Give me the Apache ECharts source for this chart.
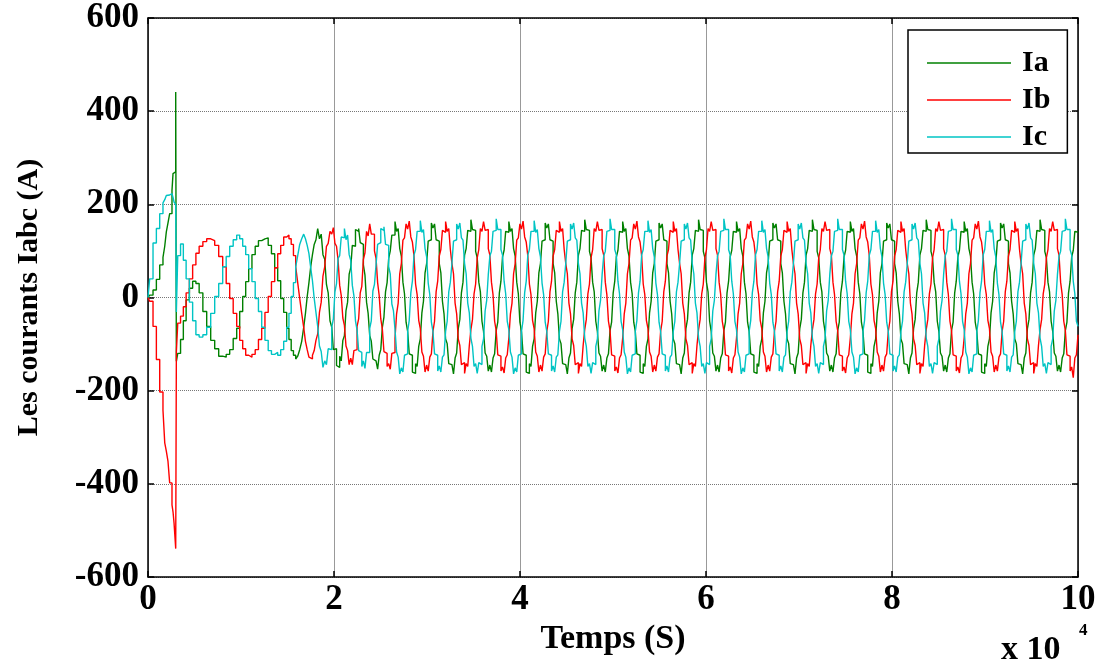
<!DOCTYPE html>
<html>
<head>
<meta charset="utf-8">
<script src="https://cdn.jsdelivr.net/npm/echarts@6/dist/echarts.min.js"></script>
<style>
html,body{margin:0;padding:0;background:#fff;}
#chart{width:1103px;height:664px;}
</style>
</head>
<body>
<div id="chart"></div>
<script>
// Sample times (shared by the three phase currents)
const timeSamples = [
 0,180,540,900,1260,1610,1800,1970,2150,2330,2580,2690,2800,2980,3050,3200,3500,3800,4100,4450,4800,5150,5500,5900,
 6312,6742,7172,7602,8032,8408,8785,9161,9538,9860,10183,10505,10828,11177,11527,11876,
 12226,12575,12925,13274,13624,13946,14269,14591,14914,15156,15398,15640,15882,16097,16312,16527,16742,16930,17118,17306,17495,17683,17871,18059,
 18247,18435,18624,18812,19000,19188,19376,19568,19760,19930,20100,20270,20440,20610,20780,20950,21120,21290,21460,21630,21800,21970,22140,22310,
 22480,22650,22820,22990,23160,23330,23500,23670,23840,24010,24180,24350,24520,24690,24860,25030,25200,25370,25540,25710,25880,26050,26220,26390,
 26560,26730,26900,27070,27240,27410,27580,27750,27920,28090,28260,28430,28600,28770,28940,29110,29280,29450,29620,29790,29960,30130,30300,30470,
 30640,30810,30980,31150,31320,31490,31660,31830,32000,32170,32340,32510,32680,32850,33020,33190,33360,33530,33700,33870,34040,34210,34380,34550,
 34720,34890,35060,35230,35400,35570,35740,35910,36080,36250,36420,36590,36760,36930,37100,37270,37440,37610,37780,37950,38120,38290,38460,38630,
 38800,38970,39140,39310,39480,39650,39820,39990,40160,40330,40500,40670,40840,41010,41180,41350,41520,41690,41860,42030,42200,42370,42540,42710,
 42880,43050,43220,43390,43560,43730,43900,44070,44240,44410,44580,44750,44920,45090,45260,45430,45600,45770,45940,46110,46280,46450,46620,46790,
 46960,47130,47300,47470,47640,47810,47980,48150,48320,48490,48660,48830,49000,49170,49340,49510,49680,49850,50020,50190,50360,50530,50700,50870,
 51040,51210,51380,51550,51720,51890,52060,52230,52400,52570,52740,52910,53080,53250,53420,53590,53760,53930,54100,54270,54440,54610,54780,54950,
 55120,55290,55460,55630,55800,55970,56140,56310,56480,56650,56820,56990,57160,57330,57500,57670,57840,58010,58180,58350,58520,58690,58860,59030,
 59200,59370,59540,59710,59880,60050,60220,60390,60560,60730,60900,61070,61240,61410,61580,61750,61920,62090,62260,62430,62600,62770,62940,63110,
 63280,63450,63620,63790,63960,64130,64300,64470,64640,64810,64980,65150,65320,65490,65660,65830,66000,66170,66340,66510,66680,66850,67020,67190,
 67360,67530,67700,67870,68040,68210,68380,68550,68720,68890,69060,69230,69400,69570,69740,69910,70080,70250,70420,70590,70760,70930,71100,71270,
 71440,71610,71780,71950,72120,72290,72460,72630,72800,72970,73140,73310,73480,73650,73820,73990,74160,74330,74500,74670,74840,75010,75180,75350,
 75520,75690,75860,76030,76200,76370,76540,76710,76880,77050,77220,77390,77560,77730,77900,78070,78240,78410,78580,78750,78920,79090,79260,79430,
 79600,79770,79940,80110,80280,80450,80620,80790,80960,81130,81300,81470,81640,81810,81980,82150,82320,82490,82660,82830,83000,83170,83340,83510,
 83680,83850,84020,84190,84360,84530,84700,84870,85040,85210,85380,85550,85720,85890,86060,86230,86400,86570,86740,86910,87080,87250,87420,87590,
 87760,87930,88100,88270,88440,88610,88780,88950,89120,89290,89460,89630,89800,89970,90140,90310,90480,90650,90820,90990,91160,91330,91500,91670,
 91840,92010,92180,92350,92520,92690,92860,93030,93200,93370,93540,93710,93880,94050,94220,94390,94560,94730,94900,95070,95240,95410,95580,95750,
 95920,96090,96260,96430,96600,96770,96940,97110,97280,97450,97620,97790,97960,98130,98300,98470,98640,98810,98980,99150,99320,99490,99660,99830,
 100000
];

// Phase a current Ia (A)
const iaValues = [
 0,5,16,39,70,86,110,141,160,180,230,266,270,441,-137,-120,-90,-50,-5,20,35,30,10,-30,
 -62,-92,-110,-126,-128,-122,-112,-88,-66,-30,2,34,62,92,110,122,
 126,128,112,94,64,36,-2,-32,-66,-90,-114,-124,-132,-126,-112,-94,-64,-34,2,32,66,92,114,124,
 148,126,136,92,82,28,10,-50,-64,-112,-110,-146,-150,-126,-136,-92,-82,-28,-10,50,64,112,110,146,
 142,148,118,114,70,48,-10,-34,-82,-94,-132,-136,-140,-154,-124,-112,-64,-42,12,32,84,100,134,134,
 163,142,148,105,89,33,8,-53,-73,-121,-124,-160,-163,-142,-148,-105,-89,-33,-8,53,73,121,124,160,
 149,158,124,121,73,53,-8,-35,-89,-99,-142,-144,-147,-164,-130,-119,-67,-47,10,33,91,105,144,142,
 167,146,144,99,85,33,12,-51,-73,-119,-126,-158,-145,-160,-130,-121,-71,-53,10,35,87,101,142,140,
 163,142,148,105,89,33,8,-53,-73,-121,-124,-160,-163,-142,-148,-105,-89,-33,-8,53,73,121,124,160,
 149,158,124,121,73,53,-8,-35,-89,-99,-142,-144,-147,-164,-130,-119,-67,-47,10,33,91,105,144,142,
 167,146,144,99,85,33,12,-51,-73,-119,-126,-158,-145,-160,-130,-121,-71,-53,10,35,87,101,142,140,
 163,142,148,105,89,33,8,-53,-73,-121,-124,-160,-163,-142,-148,-105,-89,-33,-8,53,73,121,124,160,
 149,158,124,121,73,53,-8,-35,-89,-99,-142,-144,-147,-164,-130,-119,-67,-47,10,33,91,105,144,142,
 167,146,144,99,85,33,12,-51,-73,-119,-126,-158,-145,-160,-130,-121,-71,-53,10,35,87,101,142,140,
 163,142,148,105,89,33,8,-53,-73,-121,-124,-160,-163,-142,-148,-105,-89,-33,-8,53,73,121,124,160,
 149,158,124,121,73,53,-8,-35,-89,-99,-142,-144,-147,-164,-130,-119,-67,-47,10,33,91,105,144,142,
 167,146,144,99,85,33,12,-51,-73,-119,-126,-158,-145,-160,-130,-121,-71,-53,10,35,87,101,142,140,
 163,142,148,105,89,33,8,-53,-73,-121,-124,-160,-163,-142,-148,-105,-89,-33,-8,53,73,121,124,160,
 149,158,124,121,73,53,-8,-35,-89,-99,-142,-144,-147,-164,-130,-119,-67,-47,10,33,91,105,144,142,
 167,146,144,99,85,33,12,-51,-73,-119,-126,-158,-145,-160,-130,-121,-71,-53,10,35,87,101,142,140,
 163,142,148,105,89,33,8,-53,-73,-121,-124,-160,-163,-142,-148,-105,-89,-33,-8,53,73,121,124,160,
 149,158,124,121,73,53,-8,-35,-89,-99,-142,-144,-147,-164,-130,-119,-67,-47,10,33,91,105,144,142,
 167,146,144,99,85,33,12,-51,-73,-119,-126,-158,-145,-160,-130,-121,-71,-53,10,35,87,101,142,140,
 140
];

// Phase b current Ib (A)
const ibValues = [
 0,-8,-62,-133,-203,-242,-312,-330,-352,-398,-445,-460,-484,-539,-117,-55,-40,-20,10,40,70,95,110,120,
 126,122,112,88,66,30,-2,-34,-62,-92,-110,-124,-128,-122,-112,-90,
 -66,-32,2,34,64,94,112,130,134,126,114,90,66,32,-2,-34,-64,-94,-112,-128,-132,-124,-114,-92,
 -78,-32,-10,46,66,110,116,142,136,150,116,110,80,26,4,-44,-60,-104,-114,-144,-130,-144,-114,-112,
 -62,-46,10,24,82,96,142,132,158,136,136,100,84,32,4,-46,-68,-116,-120,-148,-142,-154,-120,-118,
 -87,-35,-12,51,73,123,128,158,147,164,130,119,89,29,6,-49,-67,-117,-126,-160,-145,-158,-128,-121,
 -73,-51,12,35,89,103,144,140,163,142,148,103,73,51,-12,-35,-89,-103,-144,-140,-163,-142,-148,-103,
 -69,-47,8,29,85,103,148,142,163,144,146,105,91,33,6,-51,-71,-123,-126,-158,-149,-162,-130,-123,
 -87,-35,-12,51,73,123,128,158,147,164,130,119,89,29,6,-49,-67,-117,-126,-160,-145,-158,-128,-121,
 -73,-51,12,35,89,103,144,140,163,142,148,103,73,51,-12,-35,-89,-103,-144,-140,-163,-142,-148,-103,
 -69,-47,8,29,85,103,148,142,163,144,146,105,91,33,6,-51,-71,-123,-126,-158,-149,-162,-130,-123,
 -87,-35,-12,51,73,123,128,158,147,164,130,119,89,29,6,-49,-67,-117,-126,-160,-145,-158,-128,-121,
 -73,-51,12,35,89,103,144,140,163,142,148,103,73,51,-12,-35,-89,-103,-144,-140,-163,-142,-148,-103,
 -69,-47,8,29,85,103,148,142,163,144,146,105,91,33,6,-51,-71,-123,-126,-158,-149,-162,-130,-123,
 -87,-35,-12,51,73,123,128,158,147,164,130,119,89,29,6,-49,-67,-117,-126,-160,-145,-158,-128,-121,
 -73,-51,12,35,89,103,144,140,163,142,148,103,73,51,-12,-35,-89,-103,-144,-140,-163,-142,-148,-103,
 -69,-47,8,29,85,103,148,142,163,144,146,105,91,33,6,-51,-71,-123,-126,-158,-149,-162,-130,-123,
 -87,-35,-12,51,73,123,128,158,147,164,130,119,89,29,6,-49,-67,-117,-126,-160,-145,-158,-128,-121,
 -73,-51,12,35,89,103,144,140,163,142,148,103,73,51,-12,-35,-89,-103,-144,-140,-163,-142,-148,-103,
 -69,-47,8,29,85,103,148,142,163,144,146,105,91,33,6,-51,-71,-123,-126,-158,-149,-162,-130,-123,
 -87,-35,-12,51,73,123,128,158,147,164,130,119,89,29,6,-49,-67,-117,-126,-160,-145,-158,-128,-121,
 -73,-51,12,35,89,103,144,140,163,142,148,103,73,51,-12,-35,-89,-103,-144,-140,-163,-142,-148,-103,
 -69,-47,8,29,85,103,148,142,163,144,146,105,91,33,6,-51,-71,-123,-126,-158,-149,-172,-130,-123,
 -80
];

// Phase c current Ic (A)
const icValues = [
 0,40,117,148,180,203,210,219,220,223,221,215,205,200,-31,90,115,80,40,-10,-50,-80,-85,-80,
 -64,-34,2,30,66,88,110,124,134,126,110,92,62,34,-2,-30,
 -64,-92,-114,-122,-118,-124,-112,-94,-64,-34,2,32,66,90,114,126,136,126,112,94,64,36,-2,-32,
 -62,-104,-116,-150,-136,-144,-110,-112,-64,-46,12,30,84,90,130,128,148,124,134,92,80,26,4,-50,
 -70,-114,-118,-148,-136,-152,-118,-118,-66,-50,14,28,70,114,118,148,144,152,114,112,66,50,-14,-28,
 -69,-117,-128,-164,-151,-160,-124,-121,-73,-49,10,35,91,103,142,142,165,140,146,105,87,31,6,-53,
 -73,-121,-124,-158,-147,-160,-128,-123,-73,-51,12,33,73,121,124,158,147,160,128,123,73,51,-12,-33,
 -87,-105,-148,-142,-163,-140,-144,-105,-89,-29,-6,49,89,99,142,144,169,146,146,103,91,35,8,-51,
 -69,-117,-128,-164,-151,-160,-124,-121,-73,-49,10,35,91,103,142,142,165,140,146,105,87,31,6,-53,
 -73,-121,-124,-158,-147,-160,-128,-123,-73,-51,12,33,73,121,124,158,147,160,128,123,73,51,-12,-33,
 -87,-105,-148,-142,-163,-140,-144,-105,-89,-29,-6,49,89,99,142,144,169,146,146,103,91,35,8,-51,
 -69,-117,-128,-164,-151,-160,-124,-121,-73,-49,10,35,91,103,142,142,165,140,146,105,87,31,6,-53,
 -73,-121,-124,-158,-147,-160,-128,-123,-73,-51,12,33,73,121,124,158,147,160,128,123,73,51,-12,-33,
 -87,-105,-148,-142,-163,-140,-144,-105,-89,-29,-6,49,89,99,142,144,169,146,146,103,91,35,8,-51,
 -69,-117,-128,-164,-151,-160,-124,-121,-73,-49,10,35,91,103,142,142,165,140,146,105,87,31,6,-53,
 -73,-121,-124,-158,-147,-160,-128,-123,-73,-51,12,33,73,121,124,158,147,160,128,123,73,51,-12,-33,
 -87,-105,-148,-142,-163,-140,-144,-105,-89,-29,-6,49,89,99,142,144,169,146,146,103,91,35,8,-51,
 -69,-117,-128,-164,-151,-160,-124,-121,-73,-49,10,35,91,103,142,142,165,140,146,105,87,31,6,-53,
 -73,-121,-124,-158,-147,-160,-128,-123,-73,-51,12,33,73,121,124,158,147,160,128,123,73,51,-12,-33,
 -87,-105,-148,-142,-163,-140,-144,-105,-89,-29,-6,49,89,99,142,144,169,146,146,103,91,35,8,-51,
 -69,-117,-128,-164,-151,-160,-124,-121,-73,-49,10,35,91,103,142,142,165,140,146,105,87,31,6,-53,
 -73,-121,-124,-158,-147,-160,-128,-123,-73,-51,12,33,73,121,124,158,147,160,128,123,73,51,-12,-33,
 -87,-105,-148,-142,-163,-140,-144,-105,-89,-29,-6,49,89,99,142,144,169,146,146,103,91,35,8,-51,
 -62
];

const seriesNames = ['Ia', 'Ib', 'Ic'];
const seriesColors = ['#008000', '#ff0000', '#00c4c4'];
const yTicks = [-600, -400, -200, 0, 200, 400, 600];
const xTickLabels = ['0', '2', '4', '6', '8', '10'];

const FONT = "'Liberation Serif', 'Times New Roman', serif";
const chart = echarts.init(document.getElementById('chart'), null, {renderer: 'canvas'});

const valueSets = [iaValues, ibValues, icValues];
const series = seriesNames.map((name, s) => ({
  name: name,
  type: 'line',
  step: 'end',
  showSymbol: false,
  symbol: 'none',
  xAxisIndex: 0,
  yAxisIndex: 0,
  data: timeSamples.map((t, i) => [t, valueSets[s][i]]),
  lineStyle: {width: 1.4, color: seriesColors[s]},
  itemStyle: {color: seriesColors[s]},
  emphasis: {disabled: true},
  z: 2 + s
}));

const axisLineStyle = {show: true, onZero: false, lineStyle: {color: '#000', width: 1.5}};
const tickStyle = {show: true, inside: true, length: 6, lineStyle: {color: '#000', width: 1.5}};

chart.setOption({
  animation: false,
  backgroundColor: '#ffffff',
  grid: {left: 148, right: 25, top: 18, bottom: 87, containLabel: false},
  xAxis: [
    {
      type: 'value', min: 0, max: 100000, interval: 20000, position: 'bottom',
      axisLine: axisLineStyle, axisTick: tickStyle,
      axisLabel: {
        formatter: (v) => xTickLabels[Math.round(v / 20000)],
        color: '#000', fontFamily: FONT, fontWeight: 'bold', fontSize: 35, margin: 5
      },
      splitLine: {show: true, lineStyle: {color: '#999', width: 1, type: 'solid'}},
      name: 'Temps (S)', nameLocation: 'middle', nameGap: 40,
      nameTextStyle: {color: '#000', fontFamily: FONT, fontWeight: 'bold', fontSize: 34}
    },
    {
      type: 'value', min: 0, max: 100000, interval: 20000, position: 'top',
      axisLine: axisLineStyle, axisTick: tickStyle,
      axisLabel: {show: false}, splitLine: {show: false}
    }
  ],
  yAxis: [
    {
      type: 'value', min: -600, max: 600, interval: 200, position: 'left',
      axisLine: axisLineStyle, axisTick: tickStyle,
      axisLabel: {
        formatter: (v) => String(yTicks[Math.round((v + 600) / 200)]),
        color: '#000', fontFamily: FONT, fontWeight: 'bold', fontSize: 35, margin: 9
      },
      splitLine: {show: true, lineStyle: {color: '#777', width: 1, type: 'dotted'}},
      name: 'Les courants Iabc (A)', nameLocation: 'middle', nameGap: 104, nameRotate: 90,
      nameTextStyle: {color: '#000', fontFamily: FONT, fontWeight: 'bold', fontSize: 30}
    },
    {
      type: 'value', min: -600, max: 600, interval: 200, position: 'right',
      axisLine: axisLineStyle, axisTick: tickStyle,
      axisLabel: {show: false}, splitLine: {show: false}
    }
  ],
  legend: {
    data: seriesNames,
    orient: 'vertical',
    left: 908, top: 30,
    padding: [18, 17, 1, 19],
    itemWidth: 84, itemHeight: 1.5, icon: 'rect',
    itemGap: 7,
    backgroundColor: '#fff', borderColor: '#000', borderWidth: 1.5, borderRadius: 0,
    textStyle: {color: '#000', fontFamily: FONT, fontWeight: 'bold', fontSize: 30, lineHeight: 30, padding: [0, 0, 0, 6]},
    selectedMode: false
  },
  graphic: [
    {type: 'text', left: 1001, top: 633, style: {text: 'x 10', fill: '#000', font: "bold 34px 'Liberation Serif', serif"}},
    {type: 'text', left: 1079, top: 622, style: {text: '4', fill: '#000', font: "bold 17px 'Liberation Serif', serif"}}
  ],
  series: series
});
</script>
</body>
</html>
